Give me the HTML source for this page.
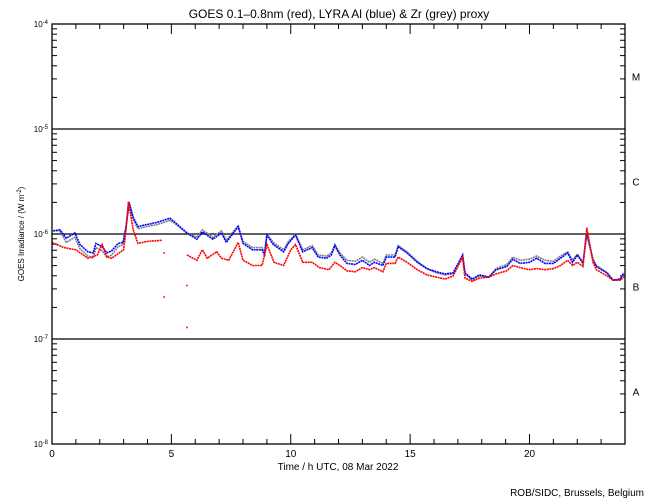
<!DOCTYPE html>
<html><head><meta charset="utf-8"><style>
html,body{margin:0;padding:0;background:#fff;}
svg{display:block;font-family:"Liberation Sans",sans-serif;}
</style></head><body>
<svg id="chart" width="650" height="500" viewBox="0 0 650 500" xmlns="http://www.w3.org/2000/svg">
<rect width="650" height="500" fill="#fff"/>
<text x="339" y="18" font-size="12" text-anchor="middle">GOES 0.1–0.8nm (red), LYRA Al (blue) &amp; Zr (grey) proxy</text>
<text transform="translate(24,234) rotate(-90)" font-size="8" text-anchor="middle">GOES Irradiance / (W m<tspan font-size="6" dy="-3">-2</tspan><tspan dy="3">)</tspan></text>
<text x="338" y="470" font-size="10" text-anchor="middle">Time / h UTC, 08 Mar 2022</text>
<text x="644" y="496" font-size="10" text-anchor="end">ROB/SIDC, Brussels, Belgium</text>
<g id="axes"></g>
<g id="series"></g>
<rect x="52" y="24" width="573" height="420" fill="none" stroke="#000" stroke-width="1.3"/>
</svg>
<script>
const xTickLabels = [0, 5, 10, 15, 20];
const yDecades = [-4, -5, -6, -7, -8];
const classLabels = ["M", "C", "B", "A"];
const classLevels = [-4.5, -5.5, -6.5, -7.5];
const flareLines = [-5, -6, -7];

const blueHours = [0.05,0.33,0.6,0.96,1.17,1.5,1.73,1.84,2.1,2.3,2.5,2.77,2.98,3.1,3.23,3.4,3.6,3.97,4.4,4.94,5.15,5.65,6.07,6.3,6.74,7.1,7.3,7.8,8.0,8.4,8.8,8.9,9.0,9.27,9.7,9.9,10.2,10.5,10.9,11.15,11.5,11.7,11.85,12.06,12.35,12.7,13.0,13.3,13.5,13.86,14.0,14.37,14.5,14.87,15.3,15.7,16.1,16.46,16.8,17.2,17.3,17.6,17.9,18.3,18.6,19.05,19.3,19.6,20.0,20.3,20.65,21.0,21.3,21.6,21.8,22.0,22.24,22.4,22.66,22.8,23.25,23.5,23.8,23.95];
const blueLog = [-5.97,-5.96,-6.04,-5.99,-6.10,-6.17,-6.18,-6.09,-6.12,-6.18,-6.16,-6.09,-6.08,-5.93,-5.70,-5.84,-5.93,-5.91,-5.89,-5.85,-5.89,-5.99,-6.05,-5.98,-6.05,-5.99,-6.08,-5.93,-6.09,-6.15,-6.15,-6.20,-6.01,-6.10,-6.17,-6.09,-6.01,-6.17,-6.13,-6.22,-6.23,-6.20,-6.11,-6.20,-6.28,-6.29,-6.25,-6.30,-6.27,-6.30,-6.22,-6.22,-6.12,-6.18,-6.27,-6.33,-6.36,-6.38,-6.37,-6.20,-6.37,-6.43,-6.39,-6.41,-6.34,-6.31,-6.24,-6.28,-6.27,-6.23,-6.28,-6.28,-6.23,-6.18,-6.27,-6.20,-6.28,-5.99,-6.25,-6.31,-6.37,-6.44,-6.43,-6.37];
const greyLog = [-5.97,-5.97,-6.08,-6.03,-6.14,-6.21,-6.23,-6.13,-6.16,-6.22,-6.20,-6.12,-6.10,-5.94,-5.70,-5.86,-5.95,-5.93,-5.91,-5.87,-5.90,-5.99,-6.03,-5.96,-6.03,-5.97,-6.06,-5.92,-6.07,-6.13,-6.13,-6.18,-6.00,-6.08,-6.15,-6.07,-6.00,-6.15,-6.11,-6.20,-6.21,-6.18,-6.10,-6.18,-6.25,-6.26,-6.22,-6.27,-6.24,-6.28,-6.20,-6.20,-6.11,-6.17,-6.26,-6.33,-6.37,-6.39,-6.38,-6.21,-6.38,-6.44,-6.40,-6.41,-6.33,-6.29,-6.22,-6.25,-6.24,-6.21,-6.25,-6.26,-6.21,-6.17,-6.25,-6.19,-6.27,-6.00,-6.24,-6.30,-6.37,-6.44,-6.43,-6.38];

const redHours = [0.0,0.5,1.0,1.5,1.9,2.1,2.3,2.5,3.0,3.1,3.2,3.4,3.6,4.0,4.6,4.61,5.65,6.07,6.3,6.5,6.9,7.1,7.4,7.8,8.0,8.4,8.8,9.0,9.3,9.7,10.0,10.2,10.5,10.9,11.2,11.6,11.85,12.06,12.35,12.7,13.0,13.3,13.5,13.86,14.0,14.37,14.5,14.87,15.3,15.7,16.1,16.46,16.8,17.2,17.3,17.6,17.9,18.3,18.6,19.05,19.3,19.6,20.0,20.3,20.65,21.0,21.3,21.6,21.8,22.0,22.24,22.4,22.66,22.8,23.25,23.5,23.8,23.95];
const redLog = [-6.08,-6.13,-6.15,-6.23,-6.20,-6.10,-6.22,-6.23,-6.15,-5.96,-5.69,-5.96,-6.09,-6.07,-6.06,null,-6.20,-6.25,-6.15,-6.23,-6.17,-6.23,-6.25,-6.08,-6.25,-6.30,-6.30,-6.10,-6.27,-6.30,-6.15,-6.10,-6.27,-6.27,-6.32,-6.34,-6.27,-6.30,-6.35,-6.36,-6.32,-6.34,-6.32,-6.36,-6.28,-6.28,-6.22,-6.27,-6.34,-6.39,-6.41,-6.43,-6.40,-6.22,-6.42,-6.45,-6.42,-6.41,-6.38,-6.35,-6.30,-6.32,-6.34,-6.33,-6.34,-6.33,-6.30,-6.25,-6.30,-6.27,-6.31,-5.94,-6.27,-6.34,-6.40,-6.44,-6.44,-6.41];
const redOutlierHours = [4.7, 4.7, 5.65, 5.65];
const redOutlierLog = [-6.18, -6.60, -6.49, -6.89];

const X0 = 52, X1 = 625, Y0 = 24, Y1 = 444;
const xs = h => X0 + (h / 24) * (X1 - X0);
const ys = l => Y0 + (-4 - l) / 4 * (Y1 - Y0);
const NS = "http://www.w3.org/2000/svg";
const axes = document.getElementById('axes');
const series = document.getElementById('series');
function mk(tag, attrs, parent) {
  const e = document.createElementNS(NS, tag);
  for (const k in attrs) e.setAttribute(k, attrs[k]);
  parent.appendChild(e);
  return e;
}

// x ticks
for (let h = 1; h < 24; h++) {
  const len = h % 5 === 0 ? 10 : 5;
  const t1 = mk('line', {x1: xs(h), x2: xs(h), y1: Y1, y2: Y1 - len, stroke: '#000'}, axes);
  
  
  const t2 = mk('line', {x1: xs(h), x2: xs(h), y1: Y0, y2: Y0 + len, stroke: '#000'}, axes);
  
  
}
xTickLabels.forEach(v => {
  const t = mk('text', {x: xs(v), y: 457, 'font-size': 10, 'text-anchor': 'middle'}, axes);
  t.textContent = v;
  
  
});
// y ticks
for (let d = -8; d < -4; d++) {
  for (let k = 2; k <= 9; k++) {
    const y = ys(d + Math.log10(k));
    const a = mk('line', {x1: X0, x2: X0 + 5, y1: y, y2: y, stroke: '#000'}, axes);
    
    
    const b = mk('line', {x1: X1, x2: X1 - 5, y1: y, y2: y, stroke: '#000'}, axes);
    
    
  }
}
yDecades.forEach(d => {
  const t = mk('text', {x: 48, y: ys(d) + 3, 'font-size': 8, 'text-anchor': 'end'}, axes);
  
  
  t.appendChild(document.createTextNode('10'));
  const s = mk('tspan', {'font-size': 6, dy: -3}, t);
  s.textContent = String(d);
});
flareLines.forEach(d => {
  const l = mk('line', {x1: X0, x2: X1, y1: ys(d), y2: ys(d), stroke: '#000', 'stroke-width': 1.3}, axes);
  
  
});
classLabels.forEach((c, i) => {
  const t = mk('text', {x: 636, y: ys(classLevels[i]) + 4, 'font-size': 10, 'text-anchor': 'middle'}, axes);
  t.textContent = c;
  
  
});

function drawSeries(hours, vals, color, name) {
  let seg = [];
  const segs = [];
  hours.forEach((h, i) => {
    if (vals[i] === null) { if (seg.length) segs.push(seg); seg = []; }
    else seg.push(xs(h).toFixed(1) + ',' + ys(vals[i]).toFixed(1));
  });
  if (seg.length) segs.push(seg);
  segs.forEach(s => {
    const p = mk('polyline', {points: s.join(' '), fill: 'none', stroke: color, 'stroke-width': 1.6, 'stroke-dasharray': '2 0.6'}, series);
    
    
  });
}
drawSeries(blueHours, greyLog, '#808080', 'zr-proxy-series');
drawSeries(blueHours, blueLog, '#0000ff', 'al-proxy-series');
drawSeries(redHours, redLog, '#ff0000', 'goes-series');
redOutlierHours.forEach((h, i) => {
  const r = mk('rect', {x: xs(h) - 0.8, y: ys(redOutlierLog[i]) - 0.8, width: 1.6, height: 1.6, fill: '#ff0000'}, series);
  
  
});
</script>
</body></html>
